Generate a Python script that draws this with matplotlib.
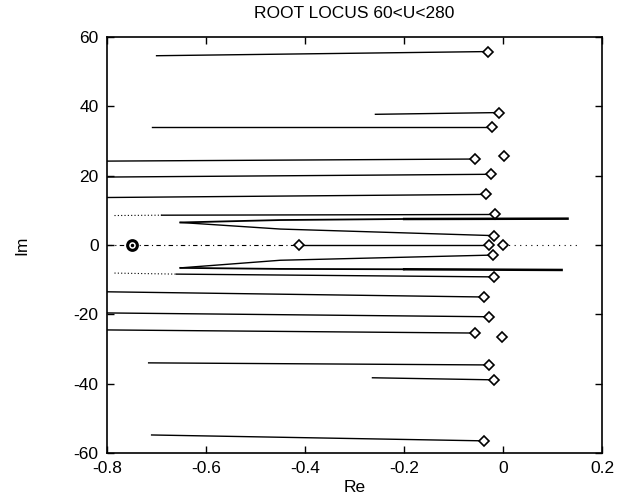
import matplotlib
matplotlib.use("Agg")
import matplotlib.pyplot as plt

plt.rcParams['font.family'] = ['Liberation Sans', 'DejaVu Sans']
plt.rcParams['axes.unicode_minus'] = False

# Complex-conjugate branches: (Re, Im) from the start of each locus to its end point
branches = [
    ([-0.70, -0.03], [54.6, 55.8]),
    ([-0.258, -0.008], [37.7, 38.2]),
    ([-0.71, -0.022], [33.9, 33.9]),
    ([-0.80, -0.056], [24.2, 24.8]),
    ([-0.80, -0.024], [19.6, 20.4]),
    ([-0.80, -0.034], [13.7, 14.6]),
    ([-0.69, -0.016], [8.6, 8.8]),
    ([-0.716, -0.028], [-34.0, -34.6]),
    ([-0.264, -0.018], [-38.3, -38.9]),
    ([-0.71, -0.038], [-54.8, -56.5]),
    ([-0.80, -0.056], [-24.5, -25.4]),
    ([-0.80, -0.028], [-19.6, -20.7]),
    ([-0.80, -0.038], [-13.5, -15.0]),
    ([-0.66, -0.018], [-8.4, -9.2]),
]

# Sparse low-gain starts of the two near-axis branches
sparse_re = [[-0.785, -0.69], [-0.785, -0.66]]
sparse_im = [[8.5, 8.6], [-8.1, -8.4]]

# Hairpin branches leaving the breakaway point
hairpin_re = [[0.13, -0.20, -0.45, -0.652, -0.45, -0.018],
              [0.118, -0.20, -0.45, -0.652, -0.45, -0.020]]
hairpin_im = [[7.6, 7.5, 7.2, 6.5, 4.6, 2.7],
              [-7.2, -7.0, -6.9, -6.6, -4.4, -2.9]]

# Real-axis roots
axis_dash_re = [-0.80, -0.412]
axis_solid_re = [-0.412, -0.028]
axis_dot_re = [0.0, 0.156]
circle_re = [-0.75]
axis_marks_re = [-0.412, -0.028, 0.0]

# Isolated end points
lone_re = [0.002, -0.002]
lone_im = [25.7, -26.5]

fig = plt.figure(figsize=(6.26, 5.0), dpi=100)
ax = fig.add_axes([0.171, 0.094, 0.791, 0.832])

lw = 1.0
mk = dict(marker='D', markersize=5, markerfacecolor='white',
          markeredgecolor='black', markeredgewidth=1.2, linestyle='none')

for re, im in branches:
    ax.plot(re, im, color='black', lw=lw)
    ax.plot(re[-1], im[-1], **mk)

for re, im in zip(sparse_re, sparse_im):
    ax.plot(re, im, color='black', lw=0.8, linestyle=(0, (1, 2)))

for re, im in zip(hairpin_re, hairpin_im):
    ax.plot(re[:2], im[:2], color='black', lw=1.8)
    ax.plot(re[1:4], im[1:4], color='black', lw=1.3)
    ax.plot(re[3:], im[3:], color='black', lw=lw)
    ax.plot(re[-1], im[-1], **mk)

ax.plot(axis_dash_re, [0, 0], color='black', lw=0.8, linestyle=(0, (4, 3, 1, 3)))
ax.plot(axis_solid_re, [0, 0], color='black', lw=lw)
ax.plot(axis_dot_re, [0, 0], color='black', lw=0.8, linestyle=(0, (1, 4)))
ax.plot(circle_re, [0], marker='o', markersize=7, markerfacecolor='white',
        markeredgecolor='black', markeredgewidth=2.2, linestyle='none')
ax.plot(circle_re, [0], marker='.', markersize=3, color='black', linestyle='none')
ax.plot(axis_marks_re, [0] * len(axis_marks_re), **mk)
ax.plot(lone_re, lone_im, **mk)

ax.set_xlim(-0.8, 0.2)
ax.set_ylim(-60, 60)
ax.set_xticks([-0.8, -0.6, -0.4, -0.2, 0, 0.2])
ax.set_xticklabels(['-0.8', '-0.6', '-0.4', '-0.2', '0', '0.2'])
ax.set_yticks([-60, -40, -20, 0, 20, 40, 60])
ax.tick_params(direction='in', length=5, width=1.0, top=True, right=True,
               labelsize=12.5, pad=6)
for s in ax.spines.values():
    s.set_linewidth(1.2)

ax.set_title('ROOT LOCUS 60<U<280', fontsize=12.5, pad=14)
ax.set_xlabel('Re', fontsize=12.5, labelpad=3)
ax.set_ylabel('Im', fontsize=12.5, labelpad=32)

fig.savefig('out.png', dpi=100)
